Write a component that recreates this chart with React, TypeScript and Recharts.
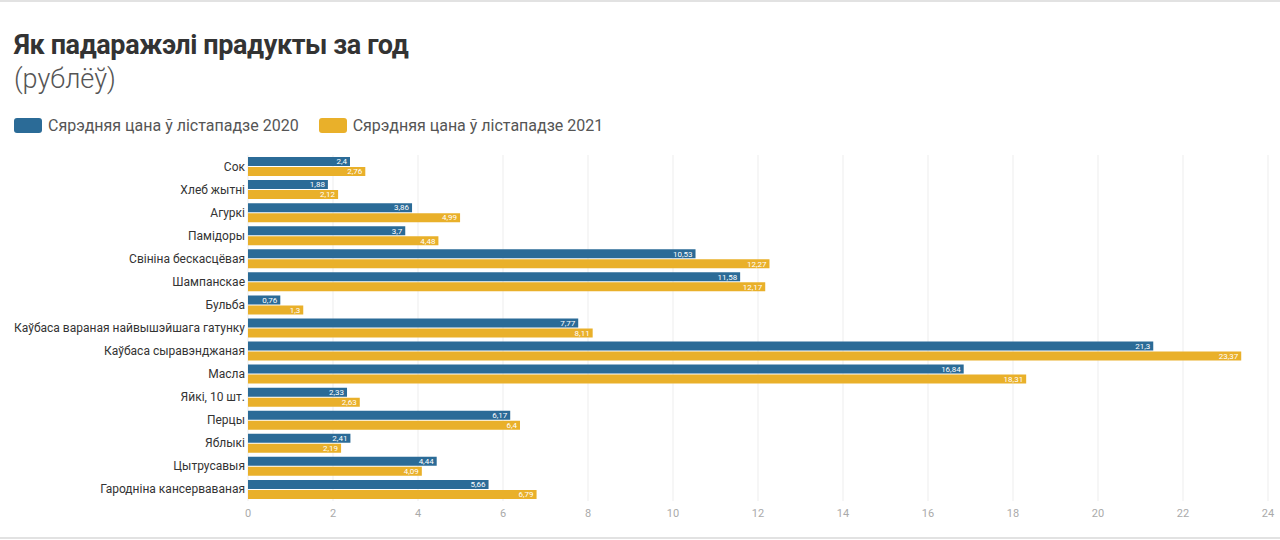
import { BarChart, Bar, XAxis, YAxis, CartesianGrid, LabelList } from "recharts";

const categories = [
  "Сок",
  "Хлеб жытні",
  "Агуркі",
  "Памідоры",
  "Свініна бескасцёвая",
  "Шампанскае",
  "Бульба",
  "Каўбаса вараная найвышэйшага гатунку",
  "Каўбаса сыравэнджаная",
  "Масла",
  "Яйкі, 10 шт.",
  "Перцы",
  "Яблыкі",
  "Цытрусавыя",
  "Гародніна кансерваваная",
];

const price2020 = [2.4, 1.88, 3.86, 3.7, 10.53, 11.58, 0.76, 7.77, 21.3, 16.84, 2.33, 6.17, 2.41, 4.44, 5.66];
const price2021 = [2.76, 2.12, 4.99, 4.48, 12.27, 12.17, 1.3, 8.11, 23.37, 18.31, 2.63, 6.4, 2.19, 4.09, 6.79];

const xTicks = [0, 2, 4, 6, 8, 10, 12, 14, 16, 18, 20, 22, 24];

const BLUE = "#2b6b97";
const YELLOW = "#e9b02a";
const FONT = "Roboto, 'Noto Sans', sans-serif";

const data = categories.map((name, i) => ({
  name,
  y2020: price2020[i],
  y2021: price2021[i],
}));

const fmt = (v: any) => String(v).replace(".", ",");

// single-line category label (default tick wraps long names)
function CategoryTick({ x, y, payload }: any) {
  return (
    <text x={x} y={y} dy={4} textAnchor="end" fontSize={12} fill="#333" fontFamily={FONT}>
      {payload.value}
    </text>
  );
}

export default function App() {
  return (
    <div
      style={{
        position: "absolute",
        left: 0,
        top: 0,
        width: 1280,
        height: 540,
        background: "#fff",
        fontFamily: FONT,
        overflow: "hidden",
      }}
    >
      <div style={{ position: "absolute", left: 0, top: 0, width: 1280, height: 2, background: "#e2e2e2" }} />
      <div style={{ position: "absolute", left: 0, bottom: 1, width: 1280, height: 2, background: "#e2e2e2" }} />

      {/* Title block */}
      <div
        style={{
          position: "absolute",
          left: 14,
          top: 28,
          fontSize: 27,
          fontWeight: 700,
          color: "#333",
          letterSpacing: -0.4,
          lineHeight: "34px",
        }}
      >
        Як падаражэлі прадукты за год
      </div>
      <div
        style={{
          position: "absolute",
          left: 14,
          top: 62,
          fontSize: 27,
          fontWeight: 300,
          color: "#555",
          lineHeight: "34px",
        }}
      >
        (рублёў)
      </div>

      {/* Legend */}
      <div style={{ position: "absolute", left: 14, top: 116, display: "flex", alignItems: "center", fontSize: 16, color: "#555" }}>
        <span style={{ width: 28, height: 15, borderRadius: 3, background: BLUE, marginRight: 6 }} />
        <span>Сярэдняя цана ў лістападзе 2020</span>
        <span style={{ width: 28, height: 15, borderRadius: 3, background: YELLOW, marginLeft: 20, marginRight: 6 }} />
        <span>Сярэдняя цана ў лістападзе 2021</span>
      </div>

      <div style={{ position: "absolute", left: 0, top: 0 }}>
        <BarChart
          width={1280}
          height={540}
          data={data}
          layout="vertical"
          margin={{ top: 155, right: 12, bottom: 10, left: 0 }}
          barSize={9}
          barGap={1}
        >
          <CartesianGrid horizontal={false} stroke="#ededed" />
          <XAxis
            type="number"
            domain={[0, 24]}
            ticks={xTicks}
            axisLine={false}
            tickLine={false}
            height={29}
            tick={{ fontSize: 11, fill: "#aaa", fontFamily: FONT }}
            tickMargin={2}
          />
          <YAxis
            type="category"
            dataKey="name"
            width={248}
            axisLine={false}
            tickLine={false}
            tickSize={0}
            tickMargin={3}
            interval={0}
            tick={<CategoryTick />}
          />
          <Bar dataKey="y2020" fill={BLUE} isAnimationActive={false}>
            <LabelList
              dataKey="y2020"
              position="insideRight"
              offset={3}
              formatter={fmt}
              style={{ fontSize: 8, fill: "#fff", fontFamily: FONT }}
            />
          </Bar>
          <Bar dataKey="y2021" fill={YELLOW} isAnimationActive={false}>
            <LabelList
              dataKey="y2021"
              position="insideRight"
              offset={3}
              formatter={fmt}
              style={{ fontSize: 8, fill: "#fff", fontFamily: FONT }}
            />
          </Bar>
        </BarChart>
      </div>
    </div>
  );
}
